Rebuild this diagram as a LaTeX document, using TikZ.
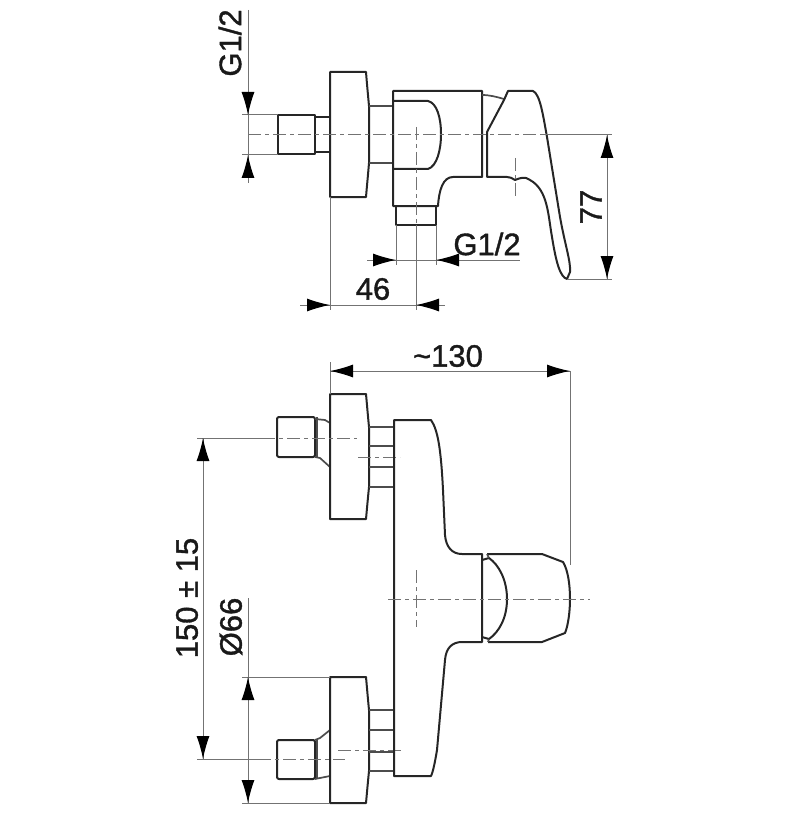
\documentclass[tikz,border=0pt]{standalone}
\usepackage{fontspec}
\setmainfont[FakeBold=1.2]{Liberation Sans}
\usetikzlibrary{arrows.meta}

\begin{document}
\begin{tikzpicture}[
            x=1pt,y=-1pt,
            >={Latex[length=23pt,width=13pt,black]},
            body/.style={draw=black!85,line width=2pt,line join=round},
            pipe/.style={draw=black!70,line width=1.7pt},
            dimline/.style={draw=black!55,line width=1pt},
            axis/.style={draw=black!55,line width=1pt,dash pattern=on 13pt off 4pt on 4pt off 4pt},
            lab/.style={font=\fontsize{31}{31}\selectfont,inner sep=0pt,text=black!90}
          ]
          \useasboundingbox (0,0) rectangle (800,813);

          %top view, wall side
          \draw[body] (278,115) rectangle (315,154);
          \draw[body] (315,117) -- (330,117) (315,152) -- (330,152);
          \draw[body] (330,72) -- (366,72) .. controls (367,85) and (368,95) .. (369,106) -- (369,163)
            .. controls (368,175) and (367,185) .. (366,197) -- (330,197) -- cycle;
          \draw[pipe] (369,106) -- (393,106) (369,163) -- (393,163);

          %top view, body
          \draw[body] (393,91) -- (482,91) -- (482,177) -- (453,177)
            .. controls (443,177) and (439,190) .. (438,206) -- (393,206) -- cycle;
          \draw[body] (393,101) -- (428,101) .. controls (437,103) and (441,118) .. (441,134)
            .. controls (441,150) and (437,166) .. (428,169) -- (393,169);
          \draw[body] (396,206) -- (396,225) -- (436,225) -- (436,206);
          \draw[pipe] (482,95) .. controls (490,95) and (497,97) .. (504,99);

          %top view, lever
          \draw[body] (487,177) -- (487,132) -- (504,100) -- (508,91) -- (533,91)
            .. controls (540,94) and (543,115) .. (547,137) -- (560,217)
            .. controls (565,245) and (571,262) .. (570,272) -- (567,279)
            .. controls (560,277) and (556,262) .. (552,237)
            .. controls (548,215) and (548,190) .. (530,180)
            .. controls (525,176) and (520,178) .. (515,180)
            .. controls (512,178) and (510,177) .. (507,177) -- cycle;

          %top view, dimensions
          \draw[axis] (248,135) -- (543,135);
          \draw[dimline] (543,135) -- (612,135);
          \draw[axis] (416,127) -- (416,225);
          \draw[dimline] (416,225) -- (416,310);
          \draw[axis] (515,158) -- (515,197);
          \draw[dimline] (248,10) -- (248,183) (242,115) -- (278,115) (242,155) -- (278,155);
          \draw[dimline,->] (248,92) -- (248,115);
          \draw[dimline,->] (248,178) -- (248,155);
          \node[lab,rotate=90] (topthread) at (230,43) {G1/2};
          \draw[dimline] (396,225) -- (396,265) (436,225) -- (436,265);
          \draw[dimline] (367,260) -- (520,260);
          \draw[dimline,->] (374,260) -- (396,260);
          \draw[dimline,->] (458,260) -- (436,260);
          \node[lab] (sidethread) at (487,244) {G1/2};
          \draw[dimline] (330,197) -- (330,310) (300,305) -- (445,305);
          \draw[dimline,->] (308,305) -- (330,305);
          \draw[dimline,->] (438,305) -- (416,305);
          \node[lab] (depth) at (373,289) {46};
          \draw[dimline] (567,279) -- (612,279) (607,135) -- (607,279);
          \draw[dimline,->] (607,158) -- (607,135);
          \draw[dimline,->] (607,256) -- (607,279);
          \node[lab,rotate=90] (height) at (591,207) {77};

          %front view, upper connection
          \draw[body,rounded corners=2pt] (277,417) rectangle (315,457);
          \draw[pipe] (317,417) -- (317,457);
          \draw[pipe] (315,419) -- (325,420) -- (330,423) (315,457) -- (320,458) -- (330,467);
          \draw[body] (330,394) -- (366,394) .. controls (367,405) and (368,417) .. (369,427) -- (369,487)
            .. controls (368,497) and (367,508) .. (366,519) -- (330,519) -- cycle;
          \foreach \y in {427,446,467,487} \draw[pipe] (369,\y) -- (393,\y);
          \draw[dimline] (197,438) -- (262,438);
          \draw[axis] (262,438) -- (357,438);
          \draw[axis] (358,457) -- (400,457);

          %front view, lower connection
          \draw[body,rounded corners=2pt] (277,740) rectangle (315,779);
          \draw[pipe] (317,740) -- (317,779);
          \draw[pipe] (315,740) -- (320,738) -- (330,730) (315,779) -- (325,777) -- (330,776);
          \draw[body] (330,677) -- (366,677) .. controls (367,688) and (368,700) .. (369,710) -- (369,771)
            .. controls (368,781) and (367,792) .. (366,803) -- (330,803) -- cycle;
          \foreach \y in {710,730,752,771} \draw[pipe] (369,\y) -- (393,\y);
          \draw[dimline] (197,759) -- (258,759);
          \draw[axis] (258,759) -- (345,759);
          \draw[axis] (338,750) -- (401,750);

          %front view, body
          \draw[body] (394,420) -- (431,420) .. controls (438,430) and (441,450) .. (443,490)
            -- (445,535) .. controls (446,547) and (452,554) .. (462,554) -- (482,554)
            -- (482,642) -- (462,642) .. controls (452,642) and (446,648) .. (445,660)
            -- (437,750) .. controls (435,762) and (433,772) .. (431,776) -- (394,776) -- cycle;

          %front view, lever
          \draw[body] (487,554) -- (542,554) -- (563,562) .. controls (568,570) and (570,585) .. (570,599)
            .. controls (570,612) and (568,626) .. (565,633) -- (542,642) -- (488,642);
          \draw[body] (482,560) -- (489,558) .. controls (499,565) and (507,580) .. (507,599)
            .. controls (507,618) and (499,632) .. (489,639) -- (482,637);
          \draw[pipe] (487,554) -- (489,558) (488,642) -- (489,639);

          %front view, dimensions
          \draw[axis] (388,599) -- (590,599);
          \draw[axis] (416,570) -- (416,627);
          \draw[dimline] (330,362) -- (330,394) (570,371) -- (570,565) (330,371) -- (570,371);
          \draw[dimline,->] (354,371) -- (330,371);
          \draw[dimline,->] (546,371) -- (570,371);
          \node[lab] (width) at (448,356) {\char"007E 130};
          \draw[dimline] (203,438) -- (203,759);
          \draw[dimline,->] (203,461) -- (203,438);
          \draw[dimline,->] (203,736) -- (203,759);
          \node[lab,rotate=90] (spacing) at (187,598) {150 ± 15};
          \draw[dimline] (248,598) -- (248,803) (242,677) -- (330,677) (242,803) -- (330,803);
          \draw[dimline,->] (248,700) -- (248,677);
          \draw[dimline,->] (248,780) -- (248,803);
          \node[lab,rotate=90] (rosette) at (231,627) {Ø66};
      \end{tikzpicture}
\end{document}
